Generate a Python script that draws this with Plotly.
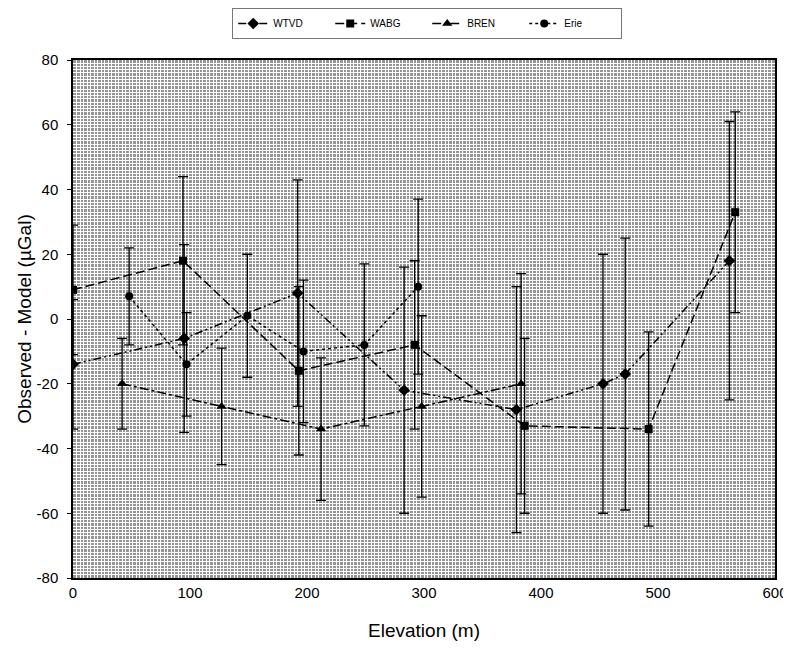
import plotly.graph_objects as go

# ---- data ----
wtvd_x = [0, 95, 192, 283, 379, 453, 472, 561]
wtvd_y = [-14, -6, 8, -22, -28, -20, -17, 18]
wtvd_err = [20, 29, 35, 38, 38, 40, 42, 43]

wabg_x = [0, 94, 193, 292, 386, 492, 566]
wabg_y = [9, 18, -16, -8, -33, -34, 33]
wabg_err = [20, 26, 26, 26, 27, 30, 31]

bren_x = [42, 127, 212, 298, 383]
bren_y = [-20, -27, -34, -27, -20]
bren_err = [14, 18, 22, 28, 34]

erie_x = [48, 97, 149, 197, 249, 295]
erie_y = [7, -14, 1, -10, -8, 10]
erie_err = [15, 16, 19, 22, 25, 27]

x_ticks = [0, 100, 200, 300, 400, 500, 600]
y_ticks = [80, 60, 40, 20, 0, -20, -40, -60, -80]
y_tick_labels = ["80", "60", "40", "20", "0", "-20", "-40", "-60", "-80"]

FONT = "Liberation Sans, Arial, sans-serif"

series = [
    ("WTVD", wtvd_x, wtvd_y, wtvd_err, "diamond", "8px,3px,2px,3px,2px,3px", 9),
    ("WABG", wabg_x, wabg_y, wabg_err, "square", "9px,4px", 8),
    ("BREN", bren_x, bren_y, bren_err, "triangle-up", "9px,3px,3px,3px", 9),
    ("Erie", erie_x, erie_y, erie_err, "circle", "3px,3px", 8),
]

fig = go.Figure()
for name, xs, ys, es, sym, dash, msize in series:
    fig.add_trace(go.Scatter(
        x=xs, y=ys, name=name, mode="lines+markers",
        line=dict(color="black", width=1.5, dash=dash),
        marker=dict(symbol=sym, size=msize, color="black"),
        error_y=dict(type="data", array=es, visible=True,
                     color="black", thickness=1.3, width=5),
    ))

fig.update_layout(
    width=791, height=652,
    margin=dict(l=65, r=24, t=52, b=82),
    paper_bgcolor="white",
    plot_bgcolor="#959595",
    font=dict(family=FONT, color="black"),
    showlegend=True,
    legend=dict(
        orientation="h", x=0.53, xanchor="center", xref="container",
        y=1.0, yanchor="top", yref="container",
        bordercolor="#777", borderwidth=1,
        bgcolor="white", font=dict(size=10, family=FONT),
        entrywidth=52, entrywidthmode="pixels",
    ),
)

fig.update_xaxes(
    range=[0, 600], tickvals=x_ticks, ticks="", showgrid=False,
    zeroline=False, showline=True, linecolor="black", linewidth=1.5,
    mirror=True, tickfont=dict(size=15, family=FONT), automargin=False,
    title=dict(text="Elevation (m)", font=dict(size=19, family=FONT), standoff=24),
    minor=dict(dtick=3, showgrid=True, gridcolor="white", gridwidth=1, ticks=""),
)
fig.update_yaxes(
    range=[-80, 80], tickvals=y_ticks, ticktext=y_tick_labels,
    ticks="outside", ticklen=4, tickcolor="black", ticklabelstandoff=6,
    showgrid=False, zeroline=False, showline=True, linecolor="black",
    linewidth=1.5, mirror=True, tickfont=dict(size=15, family=FONT), automargin=False,
    title=dict(text="Observed - Model (µGal)", font=dict(size=19, family=FONT), standoff=0),
    minor=dict(dtick=1, showgrid=True, gridcolor="white", gridwidth=1, ticks=""),
)

fig.write_html("out.html")
